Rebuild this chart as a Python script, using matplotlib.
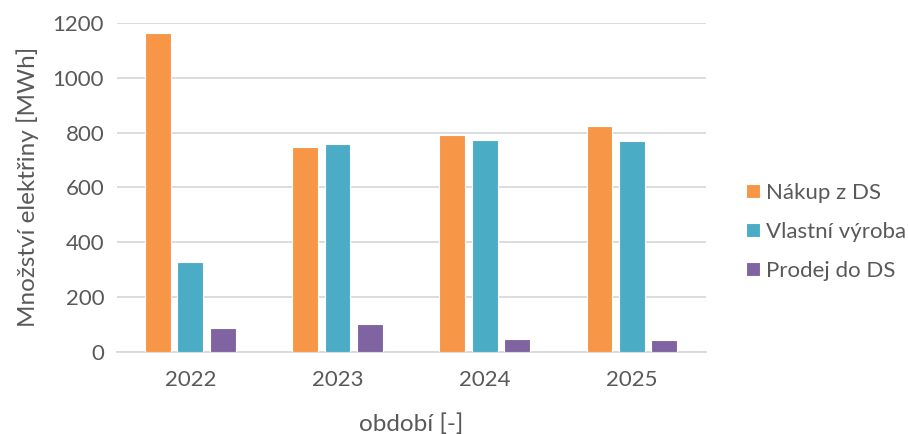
import matplotlib.pyplot as plt
import numpy as np

years = ["2022", "2023", "2024", "2025"]
series_names = ["Nákup z DS", "Vlastní výroba", "Prodej do DS"]
nakup = [1163, 747, 792, 824]
vyroba = [326, 757, 772, 769]
prodej = [85, 100, 46, 43]

COLORS = ["#F79646", "#4BACC6", "#8064A2"]
TXT = "#595959"
GRID = "#D9D9D9"

plt.rcParams["font.family"] = ["Lato", "DejaVu Sans"]

fig = plt.figure(figsize=(9.08, 4.34), dpi=100)
ax = fig.add_axes([0.1285, 0.1896, 0.6485, 0.7574])

x = np.arange(len(years))
width = 0.175
step = 0.22
for i, (name, vals) in enumerate(zip(series_names, [nakup, vyroba, prodej])):
    ax.bar(x + (i - 1) * step, vals, width=width, color=COLORS[i],
           edgecolor="white", linewidth=0.8, label=name, zorder=3)

ax.set_xlim(-0.5, len(years) - 0.5)
ax.set_ylim(0, 1200)
ax.set_yticks(range(0, 1201, 200))
ax.set_xticks(x)
ax.set_xticklabels(years)
ax.tick_params(length=0, labelsize=16, colors=TXT)
ax.tick_params(axis="x", pad=13)
ax.tick_params(axis="y", pad=9)
ax.grid(axis="y", color=GRID, linewidth=1.3, zorder=0)
for s in ["top", "right", "left"]:
    ax.spines[s].set_visible(False)
ax.spines["bottom"].set_color(GRID)
ax.spines["bottom"].set_linewidth(1.3)

ax.set_ylabel("Množství elektřiny [MWh]", fontsize=17.5, color=TXT, labelpad=10)
ax.set_xlabel("období [-]", fontsize=17.5, color=TXT, labelpad=17)

fig.legend(loc="center left", bbox_to_anchor=(0.822, 0.466), frameon=False,
           borderpad=0, borderaxespad=0,
           fontsize=16, labelcolor=TXT, handlelength=0.6, handleheight=0.6,
           handletextpad=0.3, labelspacing=0.85)

fig.savefig("out.png", dpi=100)
